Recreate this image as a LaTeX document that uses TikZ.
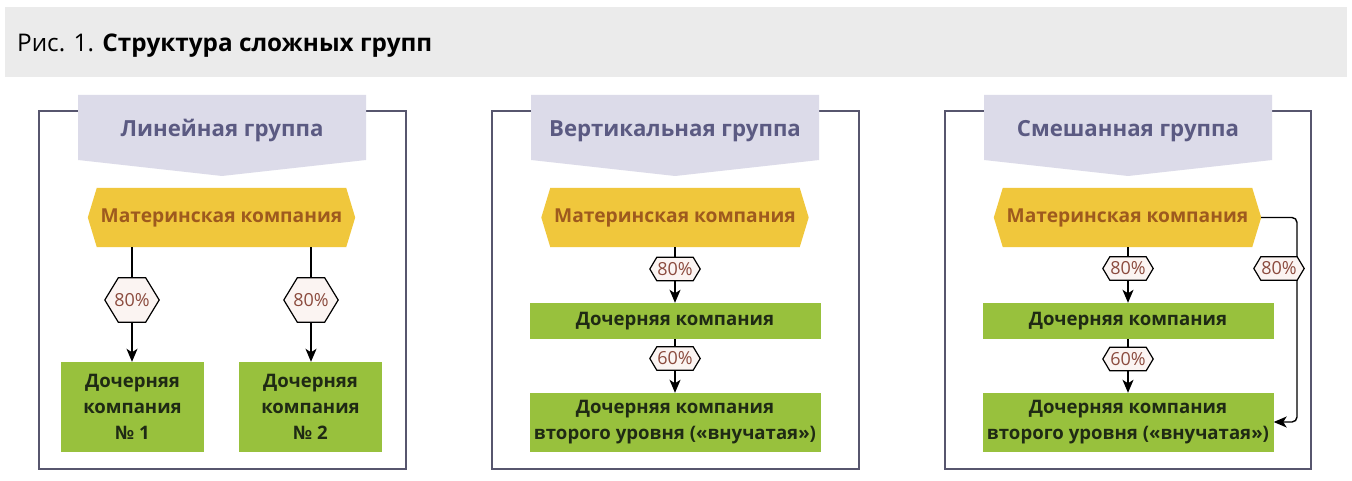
\documentclass[tikz,border=0pt]{standalone}
\usepackage{fontspec}
\setmainfont{Open Sans}
\usetikzlibrary{arrows.meta,calc}
\pgfdeclarelayer{bg}
\pgfsetlayers{bg,main}
\definecolor{bannerc}{HTML}{EBEBEB}
\definecolor{framec}{HTML}{57566E}
\definecolor{headc}{HTML}{DCDBE9}
\definecolor{headtxt}{HTML}{5B5A82}
\definecolor{parentc}{HTML}{F0C73C}
\definecolor{parenttxt}{HTML}{9E5A1E}
\definecolor{childc}{HTML}{98C13D}
\definecolor{childtxt}{HTML}{1F2A14}
\definecolor{hexfill}{HTML}{FBF4F2}
\definecolor{hextxt}{HTML}{8B4B3E}
\tikzset{
  frame/.style={draw=framec, line width=2pt},
  headshape/.style={fill=headc},
  headtext/.style={text=headtxt, inner sep=0, font=\fontsize{22.2}{26}\selectfont\bfseries},
  parentnode/.style={rectangle, inner sep=0, minimum width=267pt, minimum height=59pt, text=parenttxt, font=\fontsize{19.2}{23}\selectfont\bfseries},
  childbig/.style={rectangle, fill=childc, inner sep=0, minimum width=143pt, minimum height=90pt, align=center, text=childtxt, font=\fontsize{18.6}{26}\selectfont\bfseries},
  childwide/.style={rectangle, fill=childc, inner sep=0, minimum width=291pt, minimum height=#1, align=center, text=childtxt, font=\fontsize{18.6}{26}\selectfont\bfseries},
  hexbig/.style={rectangle, inner sep=0, minimum width=54pt, minimum height=44pt, text=hextxt, font=\fontsize{18}{22}\selectfont},
  hexsmall/.style={rectangle, inner sep=0, minimum width=50pt, minimum height=23pt, text=hextxt, font=\fontsize{18}{22}\selectfont},
  conn/.style={draw=black, line width=1.4pt},
  arr/.style={conn, -{Stealth[length=13pt,width=11pt,inset=3.5pt]}},
}
\newcommand\parentpoly[1]{%
  \begin{pgfonlayer}{bg}
    \fill[parentc] (#1.west) -- ($(#1.north west)+(9,0)$) -- ($(#1.north east)+(-9,0)$) -- (#1.east)
      -- ($(#1.south east)+(-9,0)$) -- ($(#1.south west)+(9,0)$) -- cycle;
  \end{pgfonlayer}}
\newcommand\hexpoly[2]{%
  \begin{pgfonlayer}{bg}
    \filldraw[fill=hexfill, draw=black, line width=1.2pt] (#1.west) -- ($(#1.north west)+(#2,0)$) -- ($(#1.north east)+(-#2,0)$) -- (#1.east)
      -- ($(#1.south east)+(-#2,0)$) -- ($(#1.south west)+(#2,0)$) -- cycle;
  \end{pgfonlayer}}
\begin{document}
\begin{tikzpicture}[x=1pt, y=-1pt]
\useasboundingbox (0,0) rectangle (1352,481);
\begin{pgfonlayer}{bg}
\fill[white] (0,0) rectangle (1352,481);
\end{pgfonlayer}
% banner
\fill[bannerc] (5,7) rectangle (1347,77);
\node[anchor=base west, inner sep=0, font=\fontsize{24.3}{29}\selectfont] (title) at (17,52) {Рис. 1. \textbf{Структура сложных групп}};
% frames
\draw[frame] (39,111) rectangle (406,469);
\draw[frame] (492,111) rectangle (859,469);
\draw[frame] (945,111) rectangle (1311,469);
% headers
\fill[headshape] (78,95) -- (366,95) -- (366,160) -- (222,176) -- (78,160) -- cycle;
\fill[headshape] (531,95) -- (819,95) -- (819,160) -- (675,176) -- (531,160) -- cycle;
\fill[headshape] (984,95) -- (1272,95) -- (1272,160) -- (1128,176) -- (984,160) -- cycle;
\node[headtext] (hd1) at (222,131) {Линейная группа};
\node[headtext] (hd2) at (675,131) {Вертикальная группа};
\node[headtext] (hd3) at (1128,131) {Смешанная группа};
% parents
\node[parentnode] (p1) at (221.5,217.5) {Материнская компания};
\node[parentnode] (p2) at (675,217.5) {Материнская компания};
\node[parentnode] (p3) at (1127.5,217.5) {Материнская компания};
\parentpoly{p1}\parentpoly{p2}\parentpoly{p3}
% panel 1
\node[hexbig] (h11) at (132,300) {80\%};
\node[hexbig] (h12) at (311,300) {80\%};
\hexpoly{h11}{13.5}\hexpoly{h12}{13.5}
\node[childbig] (c11) at (132.5,407) {Дочерняя\\компания\\№ 1};
\node[childbig] (c12) at (310.5,407) {Дочерняя\\компания\\№ 2};
\draw[conn] (p1.south -| h11) -- (h11.north);
\draw[arr] (h11.south) -- (h11.south |- c11.north);
\draw[conn] (p1.south -| h12) -- (h12.north);
\draw[arr] (h12.south) -- (h12.south |- c12.north);
% panel 2
\node[hexsmall] (h21) at (675,269) {80\%};
\node[childwide=36pt] (c21) at (675,321) {Дочерняя компания};
\node[hexsmall] (h22) at (675,358.5) {60\%};
\node[childwide=59pt] (c22) at (675,422.5) {Дочерняя компания\\второго уровня («внучатая»)};
\hexpoly{h21}{7}\hexpoly{h22}{7}
\draw[conn] (p2.south) -- (h21.north);
\draw[arr] (h21.south) -- (c21.north);
\draw[conn] (c21.south) -- (h22.north);
\draw[arr] (h22.south) -- (c22.north);
% panel 3
\node[hexsmall] (h31) at (1128,268.5) {80\%};
\node[childwide=36pt] (c31) at (1128,321) {Дочерняя компания};
\node[hexsmall] (h32) at (1128,359) {60\%};
\node[childwide=59pt] (c32) at (1128,422.5) {Дочерняя компания\\второго уровня («внучатая»)};
\node[hexsmall] (h33) at (1279,268.5) {80\%};
\coordinate (rc) at (1297,422);
\begin{pgfonlayer}{bg}
\draw[arr, rounded corners=5pt] (p3.east) -| (rc) -- (rc -| c32.east);
\end{pgfonlayer}
\hexpoly{h31}{7}\hexpoly{h32}{7}\hexpoly{h33}{7}
\draw[conn] (p3.south -| h31) -- (h31.north);
\draw[arr] (h31.south) -- (h31.south |- c31.north);
\draw[conn] (c31.south -| h32) -- (h32.north);
\draw[arr] (h32.south) -- (h32.south |- c32.north);
\end{tikzpicture}
\end{document}
